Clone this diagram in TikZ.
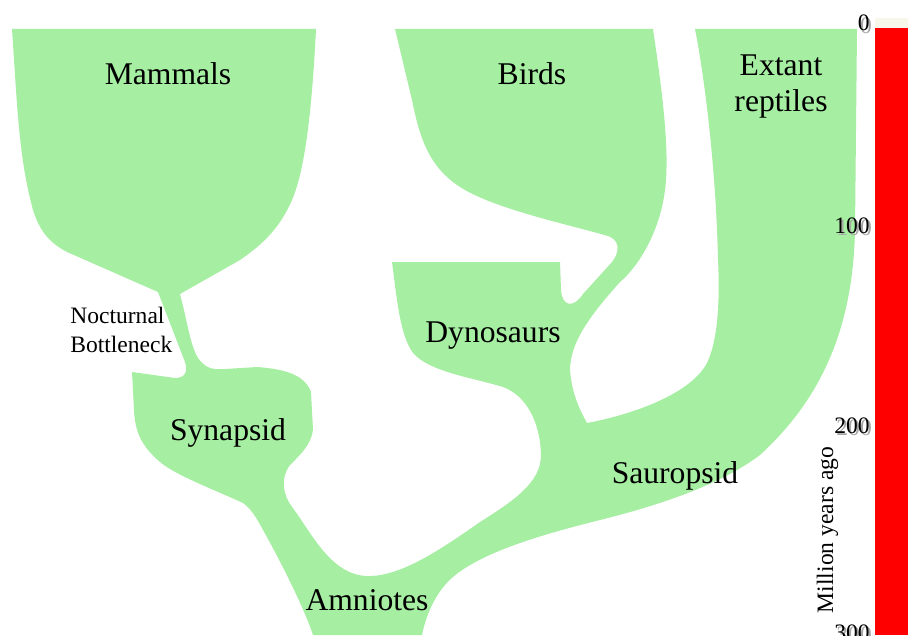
\documentclass[tikz,border=0pt]{standalone}
\usepackage{fontspec}
\setmainfont{Liberation Serif}
\usepackage{tikz}
\usetikzlibrary{positioning}
\definecolor{cladegreen}{RGB}{166,238,162}
\definecolor{barred}{RGB}{255,0,0}
\definecolor{barcap}{RGB}{248,248,234}
\newcommand{\shadenum}[1]{\makebox[0pt][l]{\hspace{1.2pt}\raisebox{-1.2pt}{\textcolor{black!35}{#1}}}#1}
\tikzset{
  clade/.style={fill=cladegreen, draw=none},
  big/.style={font=\fontsize{18}{21}\selectfont, inner sep=0pt, anchor=base},
  small/.style={font=\fontsize{13.4}{16.5}\selectfont, inner sep=0pt},
  tick/.style={small, anchor=base east},
}

\begin{document}
\begin{tikzpicture}[x=0.02cm, y=-0.02cm]
  \useasboundingbox (0,0) rectangle (908,635);
  % time bar
  \fill[barcap] (875,18) rectangle (908,28);
  \fill[barred] (875,28) rectangle (908,635);
  % the tree as one shape
  \path[clade] (12,29) -- (316,29)
    .. controls (312,110) and (305,170) .. (292,200)
    .. controls (280,228) and (262,245) .. (240,260) -- (180,294)
    .. controls (187,320) and (190,345) .. (198,358)
    .. controls (205,368) and (212,370) .. (225,369) -- (257,367)
    .. controls (285,369) and (305,375) .. (311,392) -- (313,430)
    .. controls (311,445) and (300,455) .. (290,465)
    .. controls (280,478) and (283,495) .. (292,507)
    .. controls (310,530) and (330,575) .. (367,576)
    .. controls (400,577) and (440,550) .. (480,522)
    .. controls (515,500) and (541,482) .. (541,455)
    .. controls (540,420) and (525,395) .. (503,387)
    .. controls (470,377) and (430,372) .. (413,353)
    .. controls (400,335) and (397,300) .. (392,262) -- (560,262)
    -- (561,290) .. controls (562,305) and (572,310) .. (583,294) -- (612,262)
    .. controls (620,252) and (620,240) .. (608,236)
    .. controls (570,225) and (500,210) .. (465,190)
    .. controls (430,170) and (420,140) .. (412,100) -- (395,29) -- (653,29)
    .. controls (662,90) and (670,150) .. (665,190)
    .. controls (660,230) and (640,265) .. (620,282)
    .. controls (595,310) and (570,340) .. (570,370)
    .. controls (572,395) and (580,410) .. (587,423)
    .. controls (630,415) and (690,395) .. (707,363)
    .. controls (718,340) and (720,300) .. (718,260)
    .. controls (716,170) and (705,80) .. (695,29) -- (857,29) -- (855,230)
    .. controls (853,330) and (820,400) .. (760,455)
    .. controls (720,485) and (660,505) .. (600,520)
    .. controls (540,535) and (470,555) .. (445,585)
    .. controls (432,600) and (425,620) .. (422,635) -- (313,635)
    .. controls (305,610) and (280,560) .. (263,530)
    .. controls (255,515) and (250,508) .. (243,503)
    .. controls (215,490) and (175,475) .. (160,462)
    .. controls (140,445) and (135,430) .. (134,410) -- (132,372)
    -- (175,378) .. controls (185,378) and (188,372) .. (185,362)
    -- (158,292) -- (67,252)
    .. controls (50,243) and (40,232) .. (33,210)
    .. controls (25,180) and (20,150) .. (16,90) -- cycle;
  % group labels
  \node[big] (mam) at (168,85) {Mammals};
  \node[big] (bird) at (532,85) {Birds};
  \node[big, align=center, anchor=north] (rept) at (781,54) {Extant\\reptiles};
  \node[small, align=left, anchor=base west] (noct) at (70,352) {Nocturnal\\Bottleneck};
  \node[big] (dyno) at (493,342) {Dynosaurs};
  \node[big] (syn) at (228,440) {Synapsid};
  \node[big] (saur) at (675,483) {Sauropsid};
  \node[big] (amn) at (367,610) {Amniotes};
  % time axis
  \node[tick] (t0) at (870,31) {\shadenum{0}};
  \node[tick] (t100) at (870,233) {\shadenum{100}};
  \node[tick] (t200) at (870,433) {\shadenum{200}};
  \node[tick] (t300) at (870,640) {\shadenum{300}};
  \node[small, rotate=90, anchor=base] (myago) at (833,530) {Million years ago};
\end{tikzpicture}
\end{document}
